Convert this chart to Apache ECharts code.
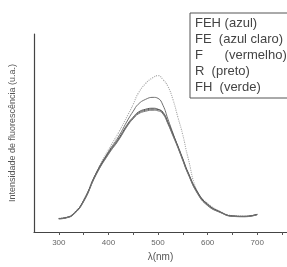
<!DOCTYPE html>
<html>
<head>
<meta charset="utf-8">
<script src="https://cdn.jsdelivr.net/npm/echarts@6/dist/echarts.min.js"></script>
<style>
html,body{margin:0;padding:0;background:#fff;}
#chart{width:287px;height:267px;}
</style>
</head>
<body>
<div id="chart"></div>
<script>
// comprimento de onda (nm)
var wl = [300,315,330,350,375,400,420,440,450,460,475,490,500,510,520,530,540,550,560,580,600,625,650,675,700];
// intensidade (u.a.) por amostra
var feh = [6.9,7.4,9.4,16.2,30,41.5,50,59.5,64.5,70,75,78,79,77,73.5,67,58,49,38,20,14.5,10.4,8.3,8,9];
var fe  = [6.8,7.3,9.2,15.8,29.5,40.5,48,57,61,64.5,67,68,67.5,64,57,50,43,36.5,30,20,14,10.2,8.1,7.9,8.9];
var f   = [6.7,7.2,9,15.5,29,39.5,46.5,54.5,57.5,60,61.5,62,61.8,60,55,49,43,36.5,30,19.5,13.5,10,8,7.8,8.8];
var r   = [6.8,7.3,9.2,15.8,29.4,40,47,55,58,60.5,62,62.5,62,60.5,55.5,49.5,43.5,37,30.5,20,14,10.2,8.1,7.9,8.9];
var fh  = [6.6,7.1,8.9,15.3,28.8,39.2,46.2,54.2,57.2,59.6,61,61.5,61.2,59.6,54.6,48.6,42.6,36,29.6,19.2,13.3,9.9,7.9,7.7,8.7];
var xTicks = [300,400,500,600,700];

var nomes = ['FEH (azul)','FE  (azul claro)','F      (vermelho)','R  (preto)','FH  (verde)'];

var pares = function(ys){
	var out = [];
	for(var i=0;i<wl.length;i++){
		out.push([wl[i],ys[i]]);
	}
	return out;
};

var serie = function(nome,ys,cor,tipo,larg){
	return {
		name: nome,
		type: 'line',
		smooth: true,
		showSymbol: false,
		lineStyle: {color: cor, width: larg, type: tipo},
		itemStyle: {color: cor},
		data: pares(ys)
	};
};

var chart = echarts.init(document.getElementById('chart'));
chart.setOption({
	backgroundColor: '#fff',
	animation: false,
	textStyle: {fontFamily: 'Liberation Sans, Arial, sans-serif'},
	grid: {left: 33, right: 0, top: 34, bottom: 30},
	legend: {
		orient: 'vertical',
		left: 190,
		top: 13,
		icon: 'rect',
		itemWidth: 0,
		itemHeight: 0,
		itemGap: 3,
		padding: [4, 40, 4, 0],
		borderColor: '#555',
		borderWidth: 1,
		selectedMode: false,
		textStyle: {fontSize: 13, color: '#444'},
		data: nomes
	},
	xAxis: {
		type: 'value',
		min: 250,
		max: 760,
		interval: 50,
		name: 'λ(nm)',
		nameLocation: 'middle',
		nameGap: 20,
		nameTextStyle: {fontSize: 10, color: '#555'},
		splitLine: {show: false},
		axisLine: {lineStyle: {color: '#444', width: 1.2}},
		axisTick: {length: 3, lineStyle: {color: '#555'}},
		axisLabel: {
			fontSize: 8,
			color: '#666',
			margin: 7,
			showMinLabel: false,
			showMaxLabel: false,
			formatter: function(v){
				return xTicks.indexOf(v) >= 0 ? String(v) : '';
			}
		}
	},
	yAxis: {
		type: 'value',
		min: 0,
		max: 100,
		name: 'Intensidade de fluorescência (u.a.)',
		nameLocation: 'middle',
		nameGap: 17,
		nameTextStyle: {fontSize: 9, color: '#555'},
		splitLine: {show: false},
		axisLine: {show: true, lineStyle: {color: '#444', width: 1.2}},
		axisTick: {show: false},
		axisLabel: {show: false}
	},
	series: [
		serie(nomes[0], feh, '#a8a8a8', 'dotted', 1.1),
		serie(nomes[1], fe, '#707070', 'solid', 1),
		serie(nomes[2], f, '#666666', 'solid', 1),
		serie(nomes[3], r, '#555555', 'solid', 1),
		serie(nomes[4], fh, '#777777', 'solid', 1)
	]
});
</script>
</body>
</html>
